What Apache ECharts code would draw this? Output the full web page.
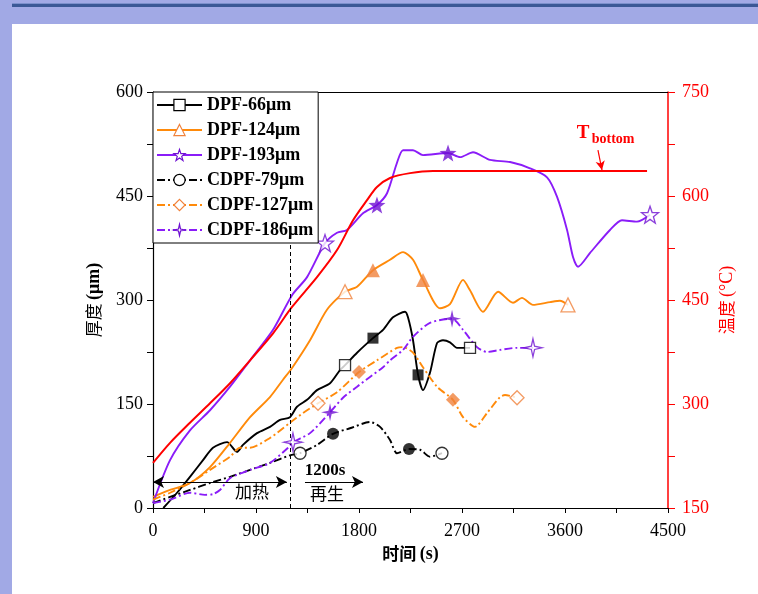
<!DOCTYPE html>
<html><head><meta charset="utf-8">
<script src="https://cdn.jsdelivr.net/npm/echarts/dist/echarts.min.js"></script>
<style>
html,body{margin:0;padding:0;background:#fff;width:758px;height:594px;overflow:hidden;position:relative}
#topband{position:absolute;left:0;top:0;width:758px;height:24px;background:#A1A9E5}
#topline1{position:absolute;left:0;top:3px;width:758px;height:1px;background:#7C90CC}
#topline{position:absolute;left:0;top:4px;width:758px;height:3px;background:#3A5896}
#leftband{position:absolute;left:0;top:0;width:12px;height:594px;background:#A1A9E5}
#chart{position:absolute;left:0;top:0;width:758px;height:594px}
</style></head><body>
<div id="topband"></div><div id="topline1"></div><div id="topline"></div><div id="leftband"></div>
<div id="chart"></div>
<script>
// ---- data (time s, thickness um) ----
const names = ['DPF-66μm','DPF-124μm','DPF-193μm','CDPF-79μm','CDPF-127μm','CDPF-186μm'];
const dpf66 = [[90,0],[210,22],[323,45],[437,69],[524,87],[647,95],[734,81],[786,91],[909,108],[1022,117],[1110,127],[1197,131],[1258,146],[1346,156],[1433,170],[1547,180],[1634,199],[1678,206],[1783,224],[1922,245],[2010,257],[2097,275],[2202,283],[2228,275],[2272,242],[2316,192],[2359,170],[2420,195],[2482,238],[2534,242],[2595,239],[2656,231],[2770,231]];
const dpf124 = [[0,16],[149,26],[323,36],[498,59],[673,94],[848,131],[1022,160],[1136,185],[1215,202],[1372,242],[1520,286],[1678,312],[1783,319],[1922,343],[2071,358],[2185,369],[2272,358],[2359,329],[2508,288],[2595,294],[2709,329],[2770,314],[2884,283],[3015,312],[3146,296],[3224,303],[3320,293],[3469,297],[3556,299],[3626,293]];
const dpf193 = [[0,7],[149,69],[323,112],[498,141],[673,175],[848,213],[1049,257],[1215,307],[1346,333],[1503,382],[1608,397],[1695,401],[1835,425],[1957,437],[2045,454],[2132,498],[2185,516],[2272,516],[2359,509],[2578,512],[2683,506],[2796,513],[2945,502],[3120,499],[3294,490],[3443,477],[3530,449],[3618,401],[3670,362],[3714,348],[3819,368],[3993,401],[4098,415],[4229,413],[4343,423]];
const cdpf79 = [[0,7],[149,16],[323,26],[498,36],[673,45],[848,55],[1022,65],[1197,76],[1285,79],[1433,91],[1573,107],[1721,115],[1896,124],[1984,117],[2071,98],[2132,79],[2237,85],[2333,84],[2420,74],[2525,79]];
const cdpf127 = [[0,12],[149,22],[323,36],[498,55],[673,74],[760,87],[848,87],[1022,101],[1197,123],[1311,137],[1442,151],[1608,167],[1800,196],[1957,213],[2132,231],[2185,232],[2272,224],[2359,203],[2482,175],[2621,156],[2709,131],[2814,117],[2919,137],[3032,160],[3076,163],[3181,159]];
const cdpf186 = [[0,7],[149,12],[323,22],[454,19],[524,20],[585,26],[673,43],[848,55],[1022,65],[1180,87],[1223,95],[1372,108],[1547,138],[1660,159],[1783,175],[1896,189],[2010,203],[2071,213],[2185,228],[2272,247],[2420,267],[2613,273],[2709,257],[2831,232],[2919,225],[3032,228],[3181,231],[3320,231]];
// temperature (s, °C)
const tempBottom = [[0,215],[149,244],[323,273],[498,301],[673,330],[848,363],[1049,402],[1215,440],[1433,483],[1608,522],[1748,565],[1870,594],[1957,613],[2071,626],[2246,633],[2447,636],[4317,636]];
// markers: [time, thickness]; first & last hollow, middle filled
const dpf66Marks = [[1678,206],[1922,245],[2316,192],[2770,231]];
const dpf124Marks = [[1678,312],[1922,343],[2359,329],[3626,293]];
const dpf193Marks = [[1503,382],[1957,437],[2578,512],[4343,423]];
const cdpf79Marks = [[1285,79],[1573,107],[2237,85],[2525,79]];
const cdpf127Marks = [[1442,151],[1800,196],[2621,156],[3181,159]];
const cdpf186Marks = [[1223,95],[1547,138],[2613,273],[3320,231]];
const markHollow = [true,false,false,true];
// tick labels
const xTickLabels = [0,900,1800,2700,3600,4500];
const yTickLabels = [0,150,300,450,600];
const y2TickLabels = [150,300,450,600,750];
// annotations
const regenStart = 1200;
const heatArrow = [[0,37.5],[1170,37.5]];
const regenArrow = [[1328,37.5],[1835,37.5]];
const tbArrow = [[3888,516],[3923,487.5]];
const texts = [
  {t:'加热', at:[865,23.8], kind:'cjk'},
  {t:'1200s', at:[1503,53.4], kind:'bold'},
  {t:'再生', at:[1520,20.2], kind:'cjk'},
  {t:'T', at:[3757,541], kind:'T'},
  {t:'bottom', at:[4020,532], kind:'sub'}
];

const STAR5 = 'path://M0,-10L2.35,-3.24L9.51,-3.09L3.8,1.24L5.88,8.09L0,4L-5.88,8.09L-3.8,1.24L-9.51,-3.09L-2.35,-3.24Z';
const STAR4 = 'path://M0,-10L1.8,-1.8L10,0L1.8,1.8L0,10L-1.8,1.8L-10,0L-1.8,-1.8Z';
const DASHDOT = [8,3,2,3];
const cfg = [
  {data:dpf66, marks:dpf66Marks, color:'#000000', mcolor:'#000000', sym:'rect', size:11, dash:'solid'},
  {data:dpf124, marks:dpf124Marks, color:'#FF8A0A', mcolor:'#F0823C', sym:'triangle', size:14, dash:'solid'},
  {data:dpf193, marks:dpf193Marks, color:'#8A1CF8', mcolor:'#6E0FD2', sym:STAR5, size:17, dash:'solid'},
  {data:cdpf79, marks:cdpf79Marks, color:'#000000', mcolor:'#000000', sym:'circle', size:12, dash:DASHDOT},
  {data:cdpf127, marks:cdpf127Marks, color:'#FF8A0A', mcolor:'#F0823C', sym:'diamond', size:14, dash:DASHDOT},
  {data:cdpf186, marks:cdpf186Marks, color:'#8A1CF8', mcolor:'#6E0FD2', sym:STAR4, size:18, dash:DASHDOT}
];

const serif = 'Liberation Serif';
const cjk = 'Noto Sans CJK SC';
const series = [];
cfg.forEach((c,i)=>{
  series.push({
    name:names[i], type:'line', data:c.data, smooth:0.25, symbol:c.sym, showSymbol:false,
    lineStyle:{color:c.color, width:1.9, type:c.dash}, itemStyle:{color:c.color}, z:3
  });
});
series.push({
  name:'Tbottom', type:'line', yAxisIndex:1, data:tempBottom, smooth:0.3, showSymbol:false, symbol:'none',
  lineStyle:{color:'#FF0000', width:2}, itemStyle:{color:'#FF0000'}, z:3
});
cfg.forEach((c,i)=>{
  series.push({
    name:'mk'+i, type:'scatter', symbol:c.sym, symbolSize:c.size, z:5,
    data:c.marks.map((p,k)=>({value:p, itemStyle: markHollow[k] ? {color:'#fff', borderColor:c.mcolor, borderWidth:1.3} : {color:c.mcolor}}))
  });
});
const mkText = (o)=>{
  let st;
  if(o.kind==='cjk') st={fontFamily:cjk, fontSize:17, color:'#000'};
  else if(o.kind==='bold') st={fontFamily:serif, fontWeight:'bold', fontSize:17, color:'#000'};
  else if(o.kind==='T') st={fontFamily:serif, fontWeight:'bold', fontSize:19, color:'#FF0000'};
  else st={fontFamily:serif, fontWeight:'bold', fontSize:14, color:'#FF0000'};
  return {coord:o.at, symbol:'circle', symbolSize:0, label:Object.assign({show:true, position:'inside', formatter:o.t}, st)};
};
series.push({
  name:'annot', type:'line', data:[], showSymbol:false, z:4,
  markLine:{
    silent:true, animation:false,
    data:[
      [{coord:heatArrow[0], symbol:'arrow'},{coord:heatArrow[1], symbol:'arrow'}],
      [{coord:regenArrow[0], symbol:'none'},{coord:regenArrow[1], symbol:'arrow'}],
      [{coord:tbArrow[0], symbol:'none', lineStyle:{color:'#FF0000', width:1.2, type:'solid'}},{coord:tbArrow[1], symbol:'arrow', symbolSize:[7,9]}],
      {xAxis:regenStart, symbol:'none', lineStyle:{color:'#000', type:[4,3], width:1}}
    ],
    symbolSize:[9,11],
    label:{show:false},
    lineStyle:{color:'#000', width:1.2, type:'solid'}
  },
  markPoint:{silent:true, data:texts.map(mkText)}
});

const chart = echarts.init(document.getElementById('chart'), null, {renderer:'canvas'});
chart.setOption({
  animation:false,
  backgroundColor:'transparent',
  grid:{left:153, right:90, top:92, bottom:86, containLabel:false, outerBoundsMode:'none'},
  legend:{
    left:153, top:92, orient:'vertical',
    itemWidth:45, itemHeight:14, itemGap:7,
    padding:[4,5,4,3],
    backgroundColor:'#fff', borderColor:'#000', borderWidth:1, borderRadius:0,
    textStyle:{fontFamily:serif, fontWeight:'bold', fontSize:18, color:'#000'},
    data:names.map((n,i)=>({name:n, itemStyle:{color:'#fff', borderColor:cfg[i].mcolor, borderWidth:1.2}})),
    selectedMode:false, z:10
  },
  xAxis:[{
    type:'value', min:0, max:4500, interval:450, position:'bottom',
    name:'{a|时间} {b|(s)}', nameLocation:'middle', nameGap:37, nameMoveOverlap:false,
    nameTextStyle:{rich:{a:{fontFamily:cjk, fontSize:17, fontWeight:'bold', color:'#000'}, b:{fontFamily:serif, fontSize:18, fontWeight:'bold', color:'#000'}}},
    axisLine:{show:true, onZero:false, lineStyle:{color:'#000', width:1.2}},
    axisTick:{show:true, inside:false, length:5, lineStyle:{color:'#000'}},
    axisLabel:{margin:14, fontFamily:serif, fontSize:18, color:'#000', formatter:v=>xTickLabels.includes(v)?String(v):''},
    splitLine:{show:false}
  },{
    type:'value', min:0, max:4500, position:'top',
    axisLine:{show:true, onZero:false, lineStyle:{color:'#000', width:1.2}},
    axisTick:{show:false}, axisLabel:{show:false}, splitLine:{show:false}
  }],
  yAxis:[{
    type:'value', min:0, max:600, interval:75, position:'left',
    name:'{a|厚度} {b|(μm)}', nameLocation:'middle', nameGap:50, nameMoveOverlap:false,
    nameTextStyle:{rich:{a:{fontFamily:cjk, fontSize:17, color:'#000'}, b:{fontFamily:serif, fontSize:18, fontWeight:'bold', color:'#000'}}},
    axisLine:{show:true, onZero:false, lineStyle:{color:'#000', width:1.2}},
    axisTick:{show:true, inside:false, length:6, lineStyle:{color:'#000'}},
    axisLabel:{margin:10, fontFamily:serif, fontSize:18, color:'#000', formatter:v=>yTickLabels.includes(v)?String(v):''},
    splitLine:{show:false}
  },{
    type:'value', min:150, max:750, interval:75, position:'right',
    name:'{a|温度} {b|(°C)}', nameLocation:'middle', nameGap:50, nameMoveOverlap:false,
    nameTextStyle:{rich:{a:{fontFamily:cjk, fontSize:17, color:'#FF0000'}, b:{fontFamily:serif, fontSize:18, color:'#FF0000'}}},
    axisLine:{show:true, onZero:false, lineStyle:{color:'#FF0000', width:1.5}},
    axisTick:{show:true, inside:false, length:7, lineStyle:{color:'#FF0000'}},
    axisLabel:{margin:14, fontFamily:serif, fontSize:18, color:'#FF0000', formatter:v=>y2TickLabels.includes(v)?String(v):''},
    splitLine:{show:false}
  }],
  series:series
});
</script>
</body></html>
